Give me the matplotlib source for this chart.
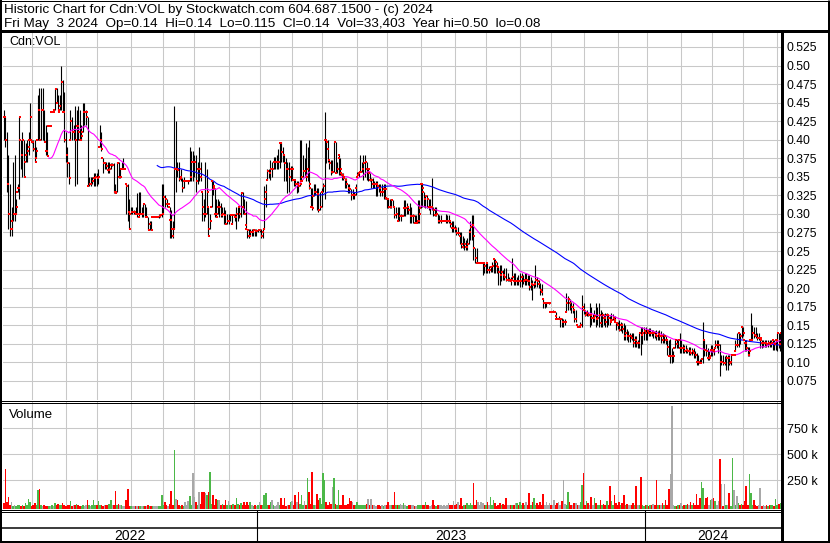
import numpy as np
import pandas as pd
import matplotlib
matplotlib.use('Agg')
import matplotlib.pyplot as plt
from matplotlib.lines import Line2D

plt.rcParams['font.family'] = ['Liberation Sans', 'DejaVu Sans']

###############################
# data (daily, Cdn:VOL)
###############################

# TSX holidays in the window
holidays = ['2022-05-23', '2022-07-01', '2022-08-01', '2022-09-05', '2022-10-10',
            '2022-12-26', '2022-12-27', '2023-01-02', '2023-02-20', '2023-04-07',
            '2023-05-22', '2023-07-03', '2023-08-07', '2023-09-04', '2023-10-09',
            '2023-12-25', '2023-12-26', '2024-01-01', '2024-02-19', '2024-03-29']

high = [
    .44,.43,.41,.38,.34,.31,.37,.38,.32,.34,.43,.40,.41,.40,.395,.40,.41,.45,  # May 22
    .40,.40,.40,.39,.46,.47,.47,.47,.44,.42,.41,.42,.42,.438,.438,.47,.47,.46,.46,.50,.48,.465,
    .41,.39,.37,.44,.43,.42,.445,.44,.445,.44,.42,.45,.45,.44,.43,.35,.35,.35,.355,.355,
    .355,.36,.42,.41,.375,.37,.37,.37,.37,.368,.368,.368,.34,.37,.37,.36,.37,.375,.36,.34,.34,.32,
    .31,.31,.305,.31,.328,.33,.33,.31,.314,.314,.31,.296,.29,.29,.296,.296,.296,.296,.30,.30,.34,
    .34,.325,.32,.314,.31,.305,.29,.445,.425,.37,.37,.36,.348,.35,.345,.345,.345,.39,.385,.385,
    .38,.38,.37,.39,.37,.33,.32,.37,.36,.31,.30,.345,.345,.335,.32,.32,.318,.315,.31,.31,.305,.30,
    .30,.30,.30,.298,.30,.31,.31,.31,.33,.33,.32,.318,.28,.28,.28,.28,.28,.28,.28,.28,
    .278,.28,.28,.338,.34,.36,.36,.373,.37,.377,.377,.38,.388,.397,.397,.39,.38,.375,.37,.37,.365,  # Jan 23
    .364,.346,.346,.344,.344,.40,.40,.38,.375,.395,.39,.40,.335,.335,.34,.34,.335,.335,.33,
    .335,.342,.438,.40,.40,.373,.373,.373,.397,.397,.37,.38,.375,.355,.355,.348,.348,.34,.34,.333,.333,.33,.34,
    .357,.357,.38,.37,.38,.38,.37,.36,.355,.348,.348,.345,.344,.344,.34,.34,.34,.34,.34,
    .321,.321,.32,.319,.319,.31,.31,.31,.31,.30,.297,.319,.319,.315,.31,.315,.31,.30,.299,.299,.319,.319,
    .34,.34,.33,.326,.326,.32,.32,.348,.31,.31,.31,.30,.299,.299,.29,.29,.30,.299,.299,.29,.29,.29,
    .285,.283,.283,.276,.276,.27,.267,.265,.267,.28,.29,.299,.299,.254,.254,.234,.234,.234,.234,.234,
    .234,.234,.23,.23,.235,.239,.239,.235,.229,.231,.231,.225,.227,.227,.22,.215,.215,.24,.22,.22,.215,.218,
    .22,.22,.218,.22,.22,.218,.218,.215,.211,.21,.231,.215,.211,.207,.205,.185,.182,.182,.18,.18,
    .168,.17,.168,.168,.159,.162,.159,.16,.159,.159,.193,.19,.185,.182,.18,.171,.17,.15,.15,.155,.191,
    .18,.171,.17,.168,.18,.175,.165,.17,.18,.175,.18,.17,.168,.165,.166,.166,.165,.162,.166,.165,.162,.155,
    .155,.157,.155,.153,.153,.15,.145,.142,.14,.14,.139,.135,.135,.13,.14,.148,.148,.148,.148,
    .145,.146,.146,.144,.144,.142,.144,.142,.144,.142,.14,.138,.135,.13,.13,.132,.12,.115,.132,.132,.13,.139,  # Jan 24
    .13,.125,.123,.123,.12,.121,.121,.12,.119,.115,.112,.11,.105,.105,.155,.13,.125,.119,.115,.123,
    .123,.12,.13,.13,.13,.125,.11,.11,.108,.11,.11,.11,.11,.11,.11,.13,.139,.139,.14,.148,
    .148,.13,.13,.121,.121,.166,.15,.148,.148,.139,.139,.133,.13,.13,.13,.13,.13,.13,.13,.13,.13,.13,
    .139,.139,.14,
]

low = [
    .40,.39,.33,.28,.27,.27,.29,.29,.30,.33,.32,.36,.35,.35,.37,.37,.38,.40,
    .395,.385,.37,.375,.40,.40,.40,.40,.397,.38,.378,.418,.418,.438,.438,.44,.45,.438,.44,.44,.438,.397,
    .37,.35,.34,.40,.40,.40,.338,.34,.40,.40,.40,.41,.42,.42,.338,.338,.338,.34,.338,.338,
    .338,.34,.39,.385,.355,.36,.36,.355,.355,.36,.365,.328,.328,.33,.348,.348,.36,.36,.36,.30,.29,.28,
    .30,.30,.30,.30,.296,.296,.30,.296,.296,.296,.296,.278,.278,.278,.296,.296,.296,.296,.295,.296,.296,
    .30,.31,.31,.314,.267,.267,.267,.28,.33,.35,.345,.345,.33,.335,.345,.345,.34,.345,.345,.345,
    .35,.33,.34,.345,.345,.29,.29,.296,.30,.27,.28,.31,.325,.296,.296,.30,.296,.296,.296,.287,.287,.287,
    .287,.29,.287,.298,.29,.28,.29,.295,.296,.30,.30,.28,.267,.267,.27,.27,.27,.27,.27,.275,
    .275,.267,.267,.28,.31,.346,.348,.346,.35,.36,.36,.36,.36,.362,.37,.37,.344,.345,.328,.33,.345,
    .346,.337,.337,.328,.33,.337,.345,.35,.35,.344,.345,.333,.31,.305,.324,.325,.305,.303,.305,
    .31,.33,.32,.368,.37,.36,.353,.355,.357,.355,.355,.353,.353,.346,.346,.335,.335,.328,.328,.319,.32,.32,.325,
    .35,.35,.357,.357,.346,.35,.346,.344,.344,.335,.335,.335,.324,.324,.33,.324,.324,.32,.32,
    .308,.308,.308,.308,.31,.294,.294,.29,.29,.29,.297,.297,.297,.30,.30,.288,.288,.288,.288,.288,.288,.288,
    .308,.31,.31,.308,.308,.305,.30,.305,.297,.297,.297,.288,.288,.288,.29,.29,.288,.288,.288,.283,.276,.276,
    .276,.272,.272,.26,.254,.254,.252,.252,.252,.26,.265,.265,.238,.234,.234,.234,.234,.234,.218,.22,
    .22,.22,.22,.222,.222,.22,.22,.22,.204,.204,.21,.211,.211,.209,.209,.209,.204,.211,.204,.204,.204,.204,
    .202,.202,.205,.204,.204,.204,.198,.198,.184,.20,.202,.202,.20,.191,.191,.173,.173,.175,.18,.178,
    .168,.168,.168,.16,.159,.159,.148,.148,.148,.15,.168,.17,.17,.166,.166,.155,.155,.148,.148,.148,.148,
    .165,.162,.162,.162,.148,.15,.155,.155,.148,.15,.148,.148,.148,.15,.148,.148,.15,.15,.157,.157,.157,.144,
    .145,.142,.142,.14,.13,.13,.13,.128,.128,.13,.121,.121,.121,.12,.12,.11,.125,.13,.13,
    .13,.135,.135,.135,.133,.133,.13,.13,.13,.126,.126,.126,.125,.11,.108,.099,.099,.10,.119,.12,.12,.112,
    .112,.112,.112,.112,.112,.11,.11,.11,.106,.106,.097,.097,.099,.099,.099,.108,.108,.103,.103,.108,
    .108,.11,.119,.119,.112,.081,.097,.097,.097,.09,.09,.097,.097,.11,.11,.115,.121,.121,.125,.133,
    .135,.115,.115,.108,.108,.13,.13,.133,.133,.13,.13,.119,.119,.121,.121,.121,.121,.121,.121,.117,.117,.117,
    .115,.12,.115,
]

close = [
    .43,.40,.34,.30,.28,.28,.30,.30,.31,.335,.43,.38,.40,.35,.38,.385,.39,.43,
    .397,.388,.37,.385,.44,.40,.44,.44,.397,.385,.378,.418,.418,.438,.438,.468,.45,.438,.445,.478,.438,.40,
    .38,.368,.348,.425,.41,.41,.40,.418,.41,.40,.405,.438,.438,.438,.338,.34,.34,.345,.348,.35,
    .348,.35,.40,.388,.368,.368,.365,.359,.36,.366,.366,.33,.328,.368,.35,.35,.36,.36,.36,.338,.303,.28,
    .303,.303,.303,.30,.30,.296,.30,.30,.314,.296,.296,.278,.287,.278,.296,.296,.296,.296,.297,.298,.30,
    .323,.32,.314,.314,.292,.28,.27,.36,.36,.359,.347,.35,.335,.345,.345,.345,.345,.35,.37,.37,
    .37,.345,.36,.36,.35,.31,.30,.30,.33,.27,.29,.345,.338,.30,.296,.31,.31,.298,.30,.298,.287,.29,
    .29,.298,.287,.298,.296,.30,.31,.30,.328,.31,.30,.285,.279,.27,.275,.275,.278,.277,.277,.278,
    .278,.27,.275,.32,.33,.358,.355,.36,.36,.37,.37,.37,.37,.395,.384,.38,.368,.36,.36,.35,.36,
    .36,.346,.34,.34,.338,.34,.345,.358,.358,.35,.36,.34,.31,.308,.33,.33,.327,.305,.31,
    .33,.337,.40,.397,.388,.368,.357,.357,.397,.355,.36,.38,.36,.353,.35,.346,.34,.335,.333,.326,.326,.325,.335,
    .352,.355,.357,.36,.368,.37,.36,.36,.346,.346,.34,.34,.34,.338,.335,.33,.33,.333,.333,
    .32,.31,.31,.319,.31,.299,.30,.29,.297,.297,.297,.308,.308,.31,.305,.297,.297,.297,.288,.288,.29,.30,
    .34,.335,.32,.324,.32,.31,.31,.31,.305,.299,.30,.29,.29,.29,.29,.29,.29,.29,.29,.286,.281,.281,
    .28,.274,.274,.27,.26,.256,.26,.256,.26,.275,.283,.285,.27,.24,.234,.234,.234,.234,.234,.23,
    .234,.225,.225,.228,.23,.239,.235,.23,.222,.218,.222,.218,.215,.211,.211,.211,.209,.215,.209,.209,.21,.209,
    .21,.215,.209,.211,.211,.21,.202,.205,.204,.205,.211,.209,.205,.198,.195,.18,.18,.18,.18,.18,
    .168,.168,.168,.162,.159,.159,.159,.155,.155,.155,.18,.185,.18,.175,.175,.159,.159,.148,.148,.15,.175,
    .17,.164,.166,.164,.164,.16,.16,.162,.159,.16,.164,.153,.164,.16,.155,.164,.16,.155,.157,.16,.157,.153,
    .15,.144,.15,.145,.135,.14,.135,.135,.135,.133,.126,.13,.126,.126,.14,.137,.14,.142,.14,
    .142,.139,.14,.139,.139,.137,.135,.138,.135,.135,.13,.135,.13,.121,.108,.108,.108,.108,.13,.125,.13,.119,
    .119,.12,.115,.117,.115,.115,.112,.115,.112,.11,.101,.10,.099,.105,.13,.117,.115,.106,.106,.117,
    .117,.115,.124,.124,.124,.10,.10,.099,.099,.106,.106,.099,.10,.11,.11,.124,.124,.139,.135,.148,
    .14,.126,.12,.11,.115,.13,.14,.137,.135,.133,.133,.133,.126,.126,.126,.125,.126,.125,.126,.13,.125,.13,
    .139,.125,.14,
]

# volume in thousands of shares
volume = [
    29,358,38,93,10,45,5,8,3,10,12,5,8,5,29,10,70,45,
    6,10,29,8,157,166,10,5,8,6,5,3,6,8,5,29,10,26,13,8,29,10,
    3,8,10,51,3,8,12,26,8,3,6,10,5,8,61,10,6,8,61,10,
    8,51,13,10,3,8,13,10,20,61,8,10,147,10,22,8,10,5,6,61,166,3,
    5,3,5,3,5,3,3,3,3,5,5,8,3,3,5,6,5,3,5,3,109,
    10,45,8,6,20,147,12,541,70,61,10,5,8,5,45,10,51,99,12,320,
    93,38,10,134,20,134,140,128,110,134,330,20,109,15,70,58,58,10,19,8,58,10,
    51,10,8,22,10,77,19,8,35,10,38,12,45,8,38,10,6,8,5,8,
    38,13,8,109,125,10,13,45,58,10,3,10,45,12,77,10,77,3,15,10,38,
    51,10,109,45,141,20,109,15,51,12,269,141,20,326,15,13,118,61,77,
    20,320,253,45,15,45,20,189,269,20,13,157,15,13,109,15,13,20,77,51,45,10,12,
    45,10,13,8,13,10,19,70,12,70,15,8,3,8,10,3,8,5,10,
    10,38,8,13,10,134,13,10,8,26,8,29,10,3,8,13,8,10,3,3,8,13,
    15,10,8,45,10,8,3,12,61,8,3,8,13,8,5,8,3,10,29,8,10,51,
    10,19,45,10,83,5,10,8,29,10,29,12,227,15,61,45,10,45,29,10,
    12,45,10,93,12,61,29,3,10,29,10,19,8,83,10,8,13,10,8,29,35,10,
    45,10,29,12,38,10,125,15,45,83,12,29,10,45,12,122,15,45,10,29,
    10,15,61,10,29,38,10,51,253,26,15,141,45,10,12,29,35,10,13,45,205,
    323,15,51,29,12,93,15,77,29,10,13,61,12,19,10,51,15,198,51,12,109,29,
    12,45,10,29,109,12,19,10,13,10,29,12,198,10,15,285,10,3,8,
    8,5,10,8,26,10,253,10,8,12,29,10,61,12,163,310,963,10,3,3,8,10,
    35,5,10,8,19,10,38,10,35,12,122,15,83,230,173,15,77,93,15,61,
    70,77,51,15,51,454,214,5,211,15,10,125,6,464,157,15,102,29,10,19,
    10,51,195,12,310,125,15,61,10,5,10,173,5,8,3,8,3,8,13,8,6,67,
    13,19,33,
]

price_ticks = [0.525, 0.50, 0.475, 0.45, 0.425, 0.40, 0.375, 0.35, 0.325, 0.30,
               0.275, 0.25, 0.225, 0.20, 0.175, 0.15, 0.125, 0.10, 0.075]
price_labels = ['0.525', '0.50', '0.475', '0.45', '0.425', '0.40', '0.375', '0.35', '0.325',
                '0.30', '0.275', '0.25', '0.225', '0.20', '0.175', '0.15', '0.125', '0.10', '0.075']
vol_ticks = [250, 500, 750]
vol_labels = ['250 k', '500 k', '750 k']

title1 = 'Historic Chart for Cdn:VOL by Stockwatch.com 604.687.1500 - (c) 2024'
title2 = 'Fri May  3 2024  Op=0.14  Hi=0.14  Lo=0.115  Cl=0.14  Vol=33,403  Year hi=0.50  lo=0.08'

###############################
# prepare series
###############################
dates = pd.bdate_range('2022-05-05', '2024-05-03', freq='C', holidays=holidays)
high = np.array(high)
low = np.array(low)
close = np.array(close)
volume = np.array(volume, dtype=float)
assert len(dates) == len(high) == len(low) == len(close) == len(volume)

n = len(close)
idx = np.arange(n)
prev = np.r_[close[0], close[:-1]]
opn = np.clip(prev, low, high)

ma30 = pd.Series(close).rolling(30).mean()
ma100 = pd.Series(close).rolling(100).mean()

vcol = np.where(np.isclose(close, prev), '#a8a8a8',
                np.where(close > prev, '#4cb848', '#ff0000'))
vcol[0] = '#ff0000'

month_start = np.where(dates.month[1:] != dates.month[:-1])[0] + 1
year_start = np.where(dates.year[1:] != dates.year[:-1])[0] + 1

###############################
# figure layout (pixel boxes)
###############################
W, H = 830, 543
fig = plt.figure(figsize=(W / 100, H / 100), dpi=100)
fig.patch.set_facecolor('white')


def box(x0, y0, x1, y1):
    return [x0 / W, 1 - y1 / H, (x1 - x0) / W, (y1 - y0) / H]


def fline(x0, y0, x1, y1, lw):
    fig.add_artist(Line2D([x0 / W, x1 / W], [1 - y0 / H, 1 - y1 / H],
                          transform=fig.transFigure, color='k',
                          lw=lw * 0.72, solid_capstyle='butt'))


xlim = (-0.52, 502.06)
grid_c = '#c8c8c8'

# price panel
ax = fig.add_axes(box(3, 31, 782, 400))
ax.set_xlim(*xlim)
ax.set_ylim(0.04926, 0.54656)
for m in month_start:
    ax.axvline(m, color=grid_c, lw=0.75, zorder=0)
for t in price_ticks:
    ax.axhline(t, color=grid_c, lw=0.75, zorder=0)
ax.vlines(idx, low, high, colors='k', lw=0.8, zorder=2)
ax.plot(idx, ma100, color='#0000ff', lw=0.8, zorder=3)
ax.plot(idx, ma30, color='#ff00ff', lw=0.8, zorder=3)
ax.plot(idx - 0.45, opn, 's', ms=1.5, mew=0, color='#ff0000', zorder=4)
ax.plot(idx + 0.45, close, 's', ms=1.5, mew=0, color='#ff0000', zorder=4)
ax.yaxis.tick_right()
ax.set_yticks(price_ticks)
ax.set_yticklabels(price_labels)
ax.tick_params(axis='y', length=0, pad=3.5, labelsize=8.7)
ax.set_xticks([])
for s in ax.spines.values():
    s.set_visible(False)

# volume panel
axv = fig.add_axes(box(3, 402, 782, 509))
axv.set_xlim(*xlim)
axv.set_ylim(-26, 1003)
for m in month_start:
    axv.axvline(m, color=grid_c, lw=0.75, zorder=0)
for t in vol_ticks:
    axv.axhline(t, color=grid_c, lw=0.75, zorder=0)
axv.bar(idx, volume + 26, bottom=-26, width=1.0, color=vcol, lw=0, zorder=2)
axv.yaxis.tick_right()
axv.set_yticks(vol_ticks)
axv.set_yticklabels(vol_labels)
axv.tick_params(axis='y', length=0, pad=3.5, labelsize=9)
axv.set_xticks([])
for s in axv.spines.values():
    s.set_visible(False)

# date band
axd = fig.add_axes(box(3, 511, 782, 542))
axd.set_xlim(*xlim)
axd.set_ylim(542, 511)
axd.axis('off')
seps = [xlim[0]] + [y - 1.5 for y in year_start] + [xlim[1]]
for s in seps[1:-1]:
    axd.axvline(s, color='k', lw=0.8)
years = [str(dates.year[0])] + [str(dates.year[y]) for y in year_start]
for k, yr in enumerate(years):
    axd.text((seps[k] + seps[k + 1]) / 2, 535.5, yr, ha='center', va='center', fontsize=10)

# frame lines
fline(0, 0.5, W, 0.5, 1)
fline(1, 0, 1, H, 2)
fline(W - 1.5, 0, W - 1.5, H, 3)
fline(0, H - 1, W, H - 1, 2)
fline(0, 30.5, W, 30.5, 3)
fline(782, 30, 782, H, 3)
for yy in (400.5, 402.5, 509.5, 511.5):
    fline(0, yy, 782, yy, 1)
fline(0, 527.5, 782, 527.5, 1.5)

# texts
fig.text(4 / W, 1 - 12.7 / H, title1, fontsize=9.7, va='baseline')
fig.text(4 / W, 1 - 27.3 / H, title2, fontsize=9.7, va='baseline')
fig.text(9.3 / W, 1 - 45 / H, 'Cdn:VOL', fontsize=9, va='baseline')
fig.text(9.3 / W, 1 - 417.7 / H, 'Volume', fontsize=9.5, va='baseline')

fig.savefig('out.png', dpi=100)
